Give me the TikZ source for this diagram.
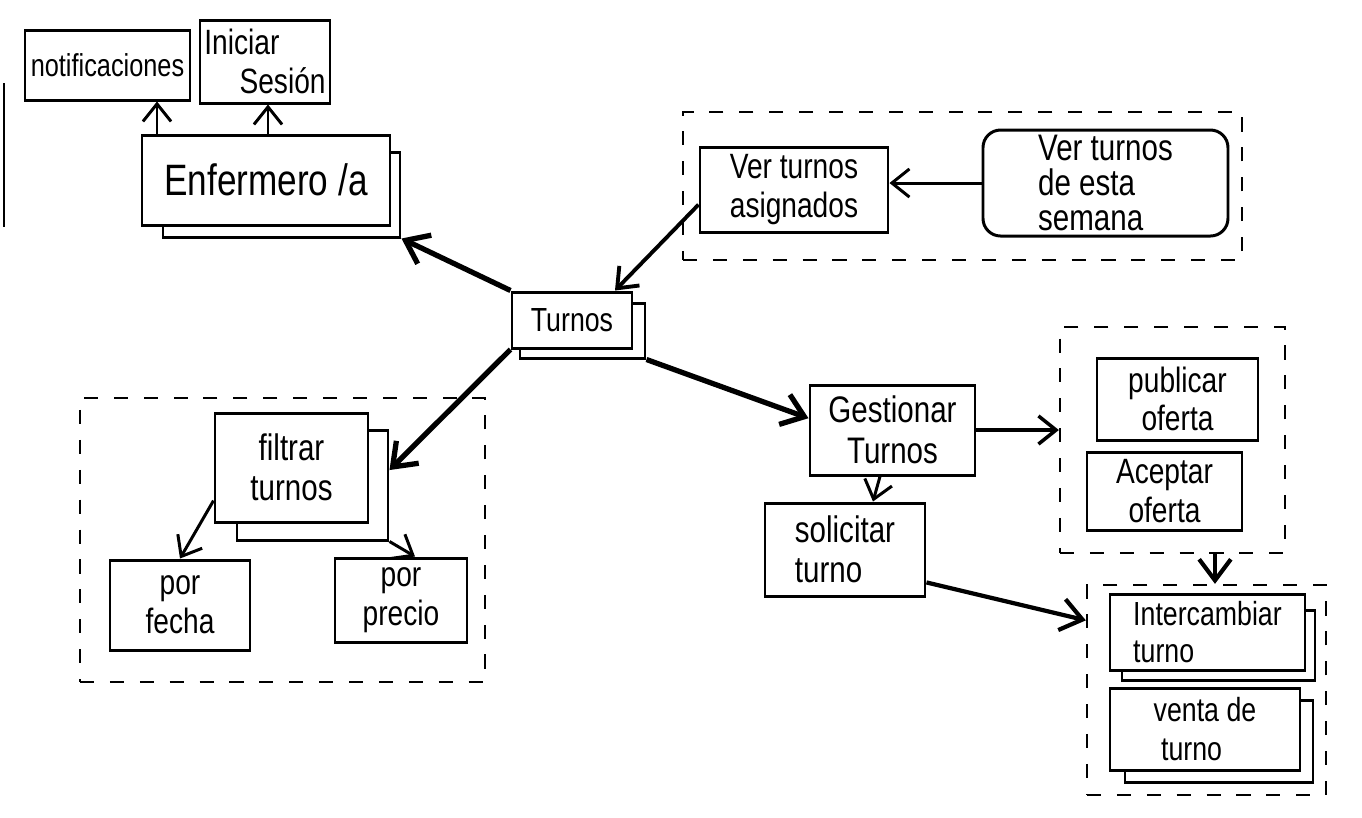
\documentclass[tikz,border=0pt]{standalone}
\usepackage{fontspec}
\newfontfamily\hand[FakeStretch=0.8]{Liberation Sans}
\usetikzlibrary{arrows.meta}
\tikzset{
  box/.style={draw, line width=0.85pt, fill=white, inner sep=0pt, align=center, font=\hand},
  sz/.style 2 args={font=\hand\fontsize{#1}{#2}\selectfont},
  backsheet/.style={draw, line width=0.85pt, fill=white, inner sep=0pt},
  group/.style={draw, dash pattern=on 4pt off 4.5pt, line width=0.65pt, inner sep=0pt},
  arr/.style={-{Straight Barb[length=5pt,width=8pt]}, line width=0.85pt},
  heavy/.style={-{Straight Barb[length=6pt,width=9pt]}, line width=1.5pt},
}
% \blk[style]{x1}{y1}{x2}{y2}{name}{text}: box spanning two pixel corners
\newcommand\blk[7][box]{%
  \node[#1, minimum width={(#4-#2)*0.01cm}, minimum height={(#5-#3)*0.01cm}]
    (#6) at ({(#2+#4)/2},{(#3+#5)/2}) {#7};}

\begin{document}
\begin{tikzpicture}[x=0.01cm, y=-0.01cm]
\useasboundingbox (0,0) rectangle (1362,817);

% stray margin stroke
\draw[line width=0.8pt] (4,83) -- (4,227);

% dashed groups
\blk[group]{683}{112}{1242}{260}{gAsig}{}
\blk[group]{80}{398}{485}{682}{gFil}{}
\blk[group]{1060}{327}{1285}{553}{gOfe}{}
\blk[group]{1087}{585}{1326}{795}{gInt}{}

% user
\blk[box, sz={9}{11}]{25}{30}{190}{100}{notif}{notificaciones}
\blk[box, sz={10}{11}, align=left]{200}{20}{330}{103}{inic}{Iniciar\\\quad Sesión}
\blk[backsheet]{163}{152}{400}{237}{enfS}{}
\blk[box, sz={12.5}{15}]{142}{135}{390}{225}{enf}{Enfermero /a}

% centre
\blk[backsheet]{520}{303}{645}{358}{turS}{}
\blk[box, sz={9.5}{12}]{512}{292}{632}{348}{tur}{Turnos}

% assigned shifts
\blk[box, sz={10}{11}]{700}{147}{888}{232}{asig}{Ver turnos\\asignados}
\blk[box, sz={10.5}{10}, rounded corners=5pt, align=left]{983}{130}{1228}{236}{sem}{Ver turnos\\de esta\\semana}

% filters
\blk[backsheet]{237}{430}{388}{540}{filS}{}
\blk[box, sz={10.5}{11.5}]{215}{413}{368}{522}{fil}{filtrar\\turnos}
\blk[box, sz={10}{11}]{110}{560}{250}{650}{fecha}{por\\fecha}
\blk[box, sz={10}{11}]{335}{558}{467}{642}{precio}{por\\precio}

% shift management
\blk[box, sz={10.5}{11.5}]{810}{385}{975}{475}{gest}{Gestionar\\Turnos}
\blk[box, sz={10.5}{11.5}, align=left]{765}{503}{925}{596}{sol}{solicitar\\turno}
\blk[box, sz={10}{11}]{1097}{358}{1258}{440}{pub}{publicar\\oferta}
\blk[box, sz={10}{11}]{1087}{452}{1242}{530}{acep}{Aceptar\\oferta}
\blk[backsheet]{1122}{610}{1315}{680}{intS}{}
\blk[box, sz={9.5}{10.5}, align=left]{1110}{594}{1305}{670}{inter}{Intercambiar\\turno}
\blk[backsheet]{1125}{700}{1313}{782}{venS}{}
\blk[box, sz={9.5}{11}, align=left]{1110}{688}{1300}{770}{venta}{venta de\\\ turno}

% connectors
\draw[arr] (157,0 |- enf.north) -- (157,0 |- notif.south);
\draw[arr] (268,0 |- enf.north) -- (268,0 |- inic.south);
\draw[heavy] (tur.north west) -- (enfS.south east);
\draw[arr] (sem.west) -- (asig.east |- sem.west);
\draw[arr, line width=1.1pt] (asig.189) -- (615,0 |- tur.north);
\draw[heavy] (tur.south west) -- (filS.11);
\draw[arr] (fil.203) -- (fecha.north);
\draw[arr] (filS.south east) -- (415,0 |- precio.north);
\draw[heavy] (turS.south east) -- (gest.172);
\draw[arr, line width=1pt] (gest.east) -- (gOfe.west |- gest.east);
\draw[arr] (880,0 |- gest.south) -- (873,0 |- sol.north);
\draw[heavy, line width=1.2pt] (sol.-22) -- (gInt.150);
\draw[heavy, line width=1.2pt] (1215,0 |- gOfe.south) -- (1215,0 |- gInt.north);
\end{tikzpicture}
\end{document}
